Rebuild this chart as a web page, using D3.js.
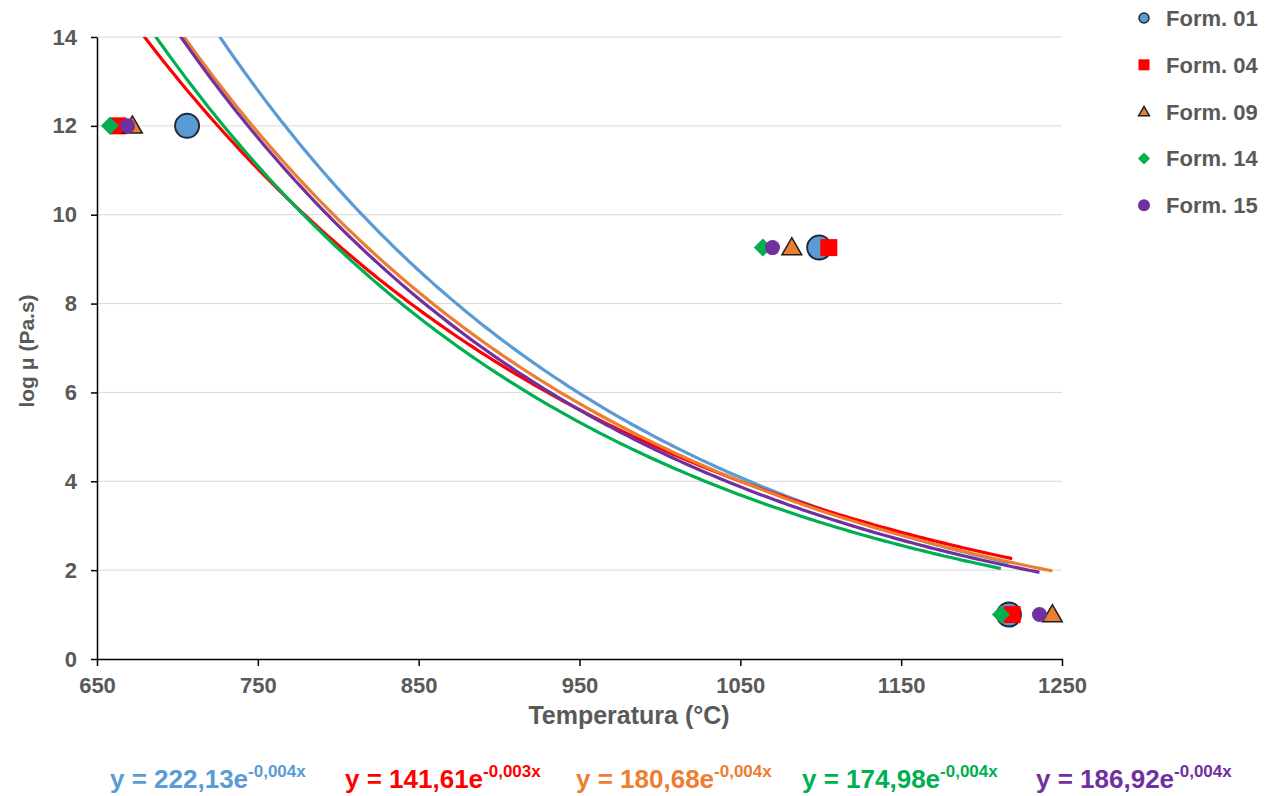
<!DOCTYPE html>
<html>
<head>
<meta charset="utf-8">
<script src="https://cdn.jsdelivr.net/npm/d3@7"></script>
<style>
  html, body { margin: 0; padding: 0; background: #fff; }
  svg { font-family: "Liberation Sans", Arial, sans-serif; font-weight: bold; }
</style>
</head>
<body>
<div id="chart"></div>
<script>
// --- Data ---
const seriesNames = ['Form. 01', 'Form. 04', 'Form. 09', 'Form. 14', 'Form. 15'];
const seriesColors = ['#5b9bd5', '#ff0000', '#ed7d31', '#00b050', '#7030a0'];
const seriesShapes = ['circle', 'square', 'triangle', 'diamond', 'dot'];
const temps01 = [706, 1099, 1217];
const temps04 = [663, 1105, 1219];
const temps09 = [672, 1082, 1244];
const temps14 = [658, 1064, 1212];
const temps15 = [669, 1070, 1236];
const logMu = [12, 9.26, 1];
const equations = ['222,13', '141,61', '180,68', '174,98', '186,92'];
const exponents = ['-0,004x', '-0,003x', '-0,004x', '-0,004x', '-0,004x'];
const xTicks = [650, 750, 850, 950, 1050, 1150, 1250];
const yTicks = [0, 2, 4, 6, 8, 10, 12, 14];

const allTemps = [temps01, temps04, temps09, temps14, temps15];

const W = 1273, H = 796;
const margin = { top: 37, right: 211, bottom: 137, left: 97 };
const width = W - margin.left - margin.right;
const height = H - margin.top - margin.bottom;
const textGray = '#595959';

const svg = d3.select('#chart').append('svg')
  .attr('width', W).attr('height', H);

const x = d3.scaleLinear().domain([650, 1250]).range([margin.left, margin.left + width]);
const y = d3.scaleLinear().domain([0, 14]).range([margin.top + height, margin.top]);

// gridlines
svg.append('g').selectAll('line')
  .data(yTicks.filter(d => d > 0))
  .enter().append('line')
  .attr('x1', x(650)).attr('x2', x(1250))
  .attr('y1', d => y(d)).attr('y2', d => y(d))
  .attr('stroke', '#d9d9d9').attr('stroke-width', 1);

// axes
const xAxis = svg.append('g')
  .attr('transform', `translate(0,${y(0)})`)
  .call(d3.axisBottom(x).tickValues(xTicks).tickFormat(d3.format('d'))
    .tickSize(7).tickPadding(11).tickSizeOuter(0));
const yAxis = svg.append('g')
  .attr('transform', `translate(${x(650)},0)`)
  .call(d3.axisLeft(y).tickValues(yTicks).tickSize(6).tickPadding(14).tickSizeOuter(0));

[xAxis, yAxis].forEach(ax => {
  ax.attr('font-size', null).attr('font-family', null);
  ax.select('.domain').attr('stroke', '#000').attr('stroke-width', 1.5);
  ax.selectAll('.tick line').attr('stroke', '#000').attr('stroke-width', 1.5);
  ax.selectAll('.tick text')
    .attr('fill', textGray)
    .style('font-size', '22px')
    .style('font-weight', 'bold');
});

// axis titles
svg.append('text')
  .attr('x', 629).attr('y', 724)
  .attr('text-anchor', 'middle')
  .attr('fill', textGray)
  .style('font-size', '25px')
  .text('Temperatura (°C)');

svg.append('text')
  .attr('transform', `translate(34,${y(7) + 3}) rotate(-90)`)
  .attr('text-anchor', 'middle')
  .attr('fill', textGray)
  .style('font-size', '21px')
  .text('log μ (Pa.s)');

// --- Exponential trendlines (least squares on ln y) ---
function expFit(xs, ys) {
  const ly = ys.map(v => Math.log(v));
  const mx = d3.mean(xs), my = d3.mean(ly);
  const b = d3.sum(xs, (v, i) => (v - mx) * (ly[i] - my)) / d3.sum(xs, v => (v - mx) * (v - mx));
  const a = Math.exp(my - b * mx);
  return { a, b };
}

svg.append('clipPath').attr('id', 'plotClip')
  .append('rect')
  .attr('x', margin.left).attr('y', margin.top)
  .attr('width', width).attr('height', height);

const line = d3.line().x(d => x(d[0])).y(d => y(d[1]));
const trendG = svg.append('g').attr('clip-path', 'url(#plotClip)');
allTemps.forEach((xs, i) => {
  const fit = expFit(xs, logMu);
  const x0 = d3.min(xs), x1 = d3.max(xs);
  const pts = d3.range(0, 201).map(k => {
    const t = x0 + (x1 - x0) * k / 200;
    return [t, fit.a * Math.exp(fit.b * t)];
  });
  trendG.append('path')
    .attr('d', line(pts))
    .attr('fill', 'none')
    .attr('stroke', seriesColors[i])
    .attr('stroke-width', 3.2);
});

// --- Markers ---
function drawMarker(g, shape, color, cx, cy, big) {
  if (shape === 'circle') {
    g.append('circle').attr('cx', cx).attr('cy', cy).attr('r', big ? 12 : 5)
      .attr('fill', color).attr('stroke', '#1f2a36').attr('stroke-width', big ? 2 : 1.5);
  } else if (shape === 'square') {
    const a = big ? 17 : 11;
    g.append('rect').attr('x', cx - a / 2).attr('y', cy - a / 2).attr('width', a).attr('height', a)
      .attr('fill', color);
  } else if (shape === 'triangle') {
    g.append('path')
      .attr('d', d3.symbol().type(d3.symbolTriangle).size(big ? 170 : 50)())
      .attr('transform', `translate(${cx},${cy + (big ? 1.5 : 1)})`)
      .attr('fill', color).attr('stroke', '#1f1f1f').attr('stroke-width', 1.5);
  } else if (shape === 'diamond') {
    const r = big ? 9 : 6;
    g.append('path')
      .attr('d', `M${cx - r},${cy}L${cx},${cy - r}L${cx + r},${cy}L${cx},${cy + r}Z`)
      .attr('fill', color);
  } else {
    g.append('circle').attr('cx', cx).attr('cy', cy).attr('r', big ? 7.5 : 6)
      .attr('fill', color);
  }
}

// draw order: Form 01 first so the others sit on top of it
const markG = svg.append('g');
allTemps.forEach((xs, i) => {
  xs.forEach((t, k) => {
    drawMarker(markG, seriesShapes[i], seriesColors[i], x(t), y(logMu[k]), true);
  });
});

// --- Legend ---
const legend = svg.append('g');
seriesNames.forEach((name, i) => {
  const ly = 18 + i * 46.8;
  drawMarker(legend, seriesShapes[i], seriesColors[i], 1144, ly, false);
  legend.append('text')
    .attr('x', 1166).attr('y', ly + 8)
    .attr('fill', textGray)
    .style('font-size', '22px')
    .text(name);
});

// --- Equations ---
const eqX = [110, 345, 576, 802, 1036];
equations.forEach((eq, i) => {
  const t = svg.append('text')
    .attr('x', eqX[i]).attr('y', 788)
    .attr('fill', seriesColors[i])
    .style('font-size', '26px');
  t.append('tspan').text(`y = ${eq}e`);
  t.append('tspan').attr('dy', -11).style('font-size', '17px').text(exponents[i]);
});
</script>
</body>
</html>
